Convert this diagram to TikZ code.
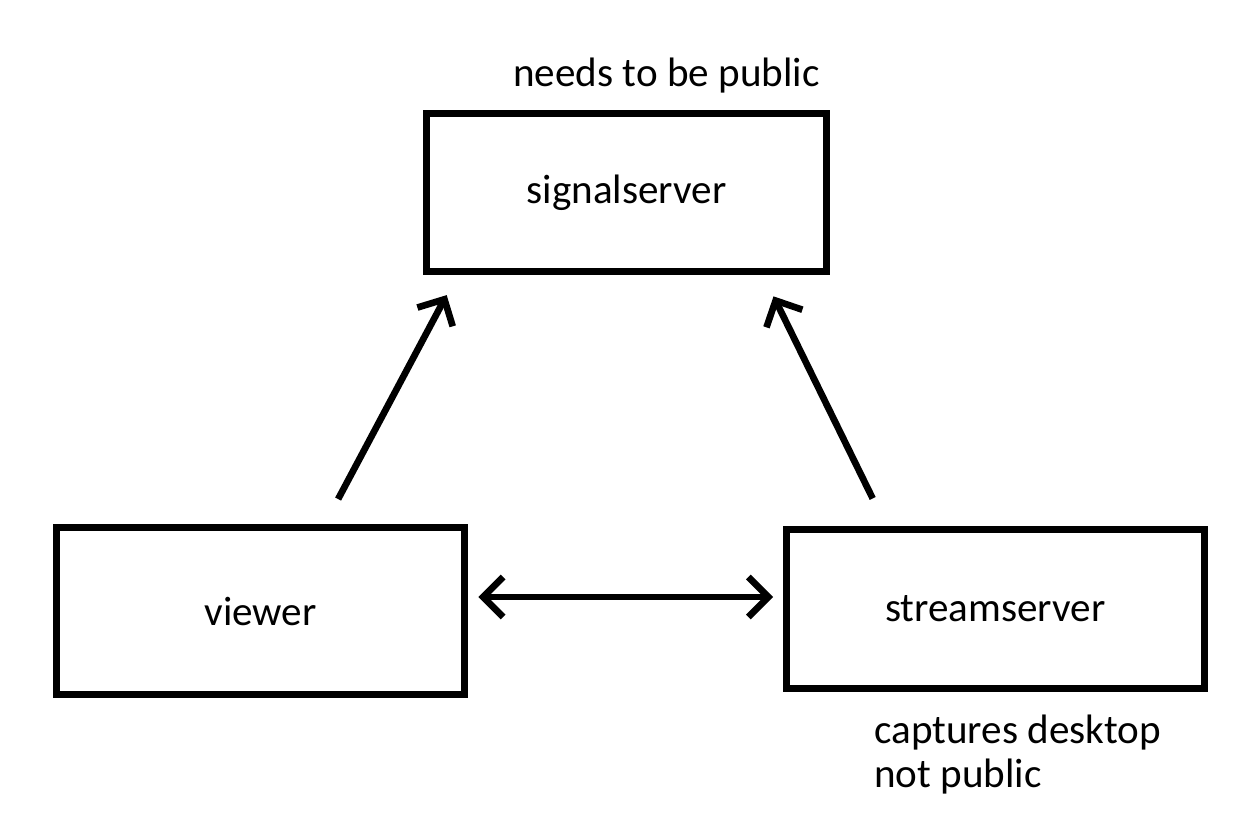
\documentclass[tikz,border=0pt]{standalone}
\usepackage{fontspec}
\setmainfont{Carlito}
\usetikzlibrary{arrows.meta,calc}

\begin{document}
\begin{tikzpicture}[
    x=0.02cm, y=-0.02cm,
    font=\fontsize{23.4}{25}\selectfont,
    >={Straight Barb[length=4mm,width=8mm]},
    box/.style={draw, line width=4pt, inner sep=0pt, minimum width=8cm, minimum height=3.17cm},
    note/.style={inner sep=0pt, align=left},
    arrow/.style={->, line width=3.8pt}
]
\useasboundingbox (0,0) rectangle (1260,814);
\node[box] (signal) at (626.7,192.5) {signalserver};
\node[box, minimum width=8.18cm, minimum height=3.35cm] (viewer) at (260.5,611) {viewer};
\node[box, minimum width=8.35cm] (stream) at (995.3,609) {streamserver};
\node[note, anchor=base] (public) at (666.5,86.7) {needs to be public};
\node[note, anchor=base west] (capture) at (874,787) {captures desktop\\not public};
\draw[arrow, shorten <=0.56cm, shorten >=0.45cm] ([xshift=1.29cm]viewer.north) -- ([xshift=-3.39cm]signal.south);
\draw[arrow, shorten <=0.62cm, shorten >=0.47cm] ([xshift=-2.18cm]stream.north) -- ([xshift=2.73cm]signal.south);
\draw[arrow, <->, shorten <=0.2cm, shorten >=0.2cm] ([yshift=0.28cm]viewer.east) -- ([yshift=0.28cm]viewer.east -| stream.west);
\end{tikzpicture}
\end{document}
